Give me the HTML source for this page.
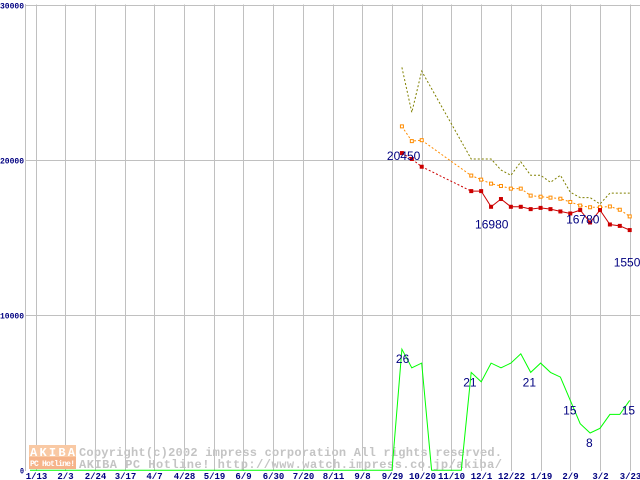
<!DOCTYPE html>
<html><head><meta charset="utf-8">
<style>
body{margin:0;background:#fff;width:640px;height:480px;overflow:hidden}
svg{display:block;font-family:"Liberation Mono","DejaVu Sans Mono",monospace}
</style></head>
<body>
<svg id="chart" width="640" height="480" viewBox="0 0 640 480" xmlns="http://www.w3.org/2000/svg">
<g id="grid"></g>
<g id="watermark">
  <rect x="29" y="445" width="47" height="12" fill="#f9c9a4"/>
  <text x="30" y="456" font-size="12" font-weight="bold" fill="#fff" textLength="45">AKIBA</text>
  <rect x="29" y="457" width="47" height="12" fill="#f6b48a"/>
  <text x="30" y="466" font-size="8" font-weight="bold" fill="#fff" textLength="45">PC Hotline!</text>
  <text x="79" y="456" font-size="12" font-weight="bold" fill="#c4c4c4" textLength="423">Copyright(c)2002 impress corporation All rights reserved.</text>
  <text x="79" y="468" font-size="12" font-weight="bold" fill="#c4c4c4" textLength="423">AKIBA PC Hotline! http://www.watch.impress.co.jp/akiba/</text>
</g>
<g id="series"></g>
<g id="labels"></g>
</svg>
<script>
const xTickLabels=["1/13","2/3","2/24","3/17","4/7","4/28","5/19","6/9","6/30","7/20","8/11","9/8","9/29","10/20","11/10","12/1","12/22","1/19","2/9","3/2","3/23"];
const yTicks=[0,10000,20000,30000];
const weeks=[37,38,39,44,45,46,47,48,49,50,51,52,53,54,55,56,57,58,59,60];
const minPrice=[20430,20050,19550,17980,17980,16970,17470,16970,16970,16820,16900,16820,16670,16540,16760,15960,16760,15830,15740,15470];
const avgPrice=[22150,21200,21260,18980,18720,18460,18310,18140,18140,17690,17620,17560,17490,17280,17050,16940,16940,16990,16780,16350];
const olWeeks=[37,38,39,44,45,46,47,48,49,50,51,52,53,54,55,56,57,58,59,60];
const maxPrice=[25950,23050,25710,20050,20050,20050,19340,19000,19860,19000,19000,18550,19000,17910,17560,17560,17150,17850,17850,17850];
const cntWeeks=[36,37,38,39,40,41,42,43,44,45,46,47,48,49,50,51,52,53,54,55,56,57,58,59,60];
const counts=[0,26,22,23,0,0,0,0,21,19,23,22,23,25,21,23,21,20,15,10,8,9,12,12,15];
const notes=[{w:37,v:20450,t:"20450",dx:-15,dy:7},{w:46,v:16980,t:"16980",dx:-16,dy:22},{w:56,v:16780,t:"16780",dx:-24,dy:14},{w:60,v:15500,t:"15500",dx:-16,dy:37}];
const cntNotes=[{w:37,c:26,t:"26",dx:-6,dy:14},{w:44,c:21,t:"21",dx:-8,dy:14},{w:50,c:21,t:"21",dx:-8,dy:14},{w:55,c:15,t:"15",dx:-17,dy:14},{w:57,c:8,t:"8",dx:-14,dy:14},{w:60,c:15,t:"15",dx:-8,dy:14}];
const CNT_SCALE=300;
const NS="http://www.w3.org/2000/svg";
function X(w){return 35.5+w*(629.7-35.5)/60;}
function Y(v){return 470.25-v*(465.75/30000);}
function mk(tag,attrs,parent){const e=document.createElementNS(NS,tag);for(const k in attrs)e.setAttribute(k,attrs[k]);parent.appendChild(e);return e;}
const grid=document.getElementById('grid'),ser=document.getElementById('series'),lab=document.getElementById('labels');
xTickLabels.forEach((t,i)=>{const x=Math.round(X(i*3))+0.5;
 const l=mk('line',{x1:x,y1:4.5,x2:x,y2:471,stroke:'#c0c0c0','stroke-width':1},grid);
 
 
 const tx=mk('text',{x:x,y:479,'font-size':9,'font-weight':'bold',fill:'#000080','text-anchor':'middle'},lab);tx.textContent=t;
 
 
});
mk('line',{x1:25.5,y1:4,x2:25.5,y2:471,stroke:'#c0c0c0'},grid);
yTicks.forEach(v=>{const y=Math.round(Y(v))+0.5;
 if(v>0){const l=mk('line',{x1:25.5,y1:y,x2:640,y2:y,stroke:'#c0c0c0'},grid);
 
 }
 const s=String(v);
 const tx=mk('text',{x:25-s.length*5,y:y+3,'font-size':8,'font-weight':'bold',fill:'#000080',textLength:s.length*5-1,lengthAdjust:'spacingAndGlyphs'},lab);tx.textContent=s;
 
 
});
function path(ws,vs,color,dash,name,fac){let d='';ws.forEach((w,i)=>{d+=(i?'L':'M')+X(w).toFixed(1)+' '+Y(vs[i]*(fac||1)).toFixed(1);});
 const p=mk('path',{d:d,fill:'none',stroke:color,'stroke-width':1},ser);if(dash)p.setAttribute('stroke-dasharray',dash);
 
 return p;}
const g=path(cntWeeks,counts,'#00ff00',null,'count-line',CNT_SCALE);
g.setAttribute('d','M30 470.25L'+g.getAttribute('d').slice(1));
path(olWeeks,maxPrice,'#808000','2,2','max-price-line');
path(weeks,avgPrice,'#ff8c00','2,2','avg-price-line');
path(weeks.slice(0,4),minPrice.slice(0,4),'#cc0000','2,2','min-price-line-early');
path(weeks.slice(3),minPrice.slice(3),'#cc0000',null,'min-price-line');
weeks.forEach((w,i)=>{const r=mk('rect',{x:X(w)-1.5,y:Y(avgPrice[i])-1.5,width:3,height:3,fill:'#fff',stroke:'#ff8c00','stroke-width':1},ser);
 
 });
weeks.forEach((w,i)=>{const r=mk('rect',{x:X(w)-2,y:Y(minPrice[i])-2,width:4,height:4,fill:'#cc0000'},ser);
 
 });
notes.forEach(n=>{const t=mk('text',{x:X(n.w)+n.dx,y:Y(n.v)+n.dy,'font-size':12,fill:'#000080',style:'font-family:"Liberation Sans",sans-serif'},lab);t.textContent=n.t;
 
 });
cntNotes.forEach(n=>{const t=mk('text',{x:X(n.w)+n.dx,y:Y(n.c*CNT_SCALE)+n.dy,'font-size':12,fill:'#000080',style:'font-family:"Liberation Sans",sans-serif'},lab);t.textContent=n.t;
 
 });
</script>
</body></html>
